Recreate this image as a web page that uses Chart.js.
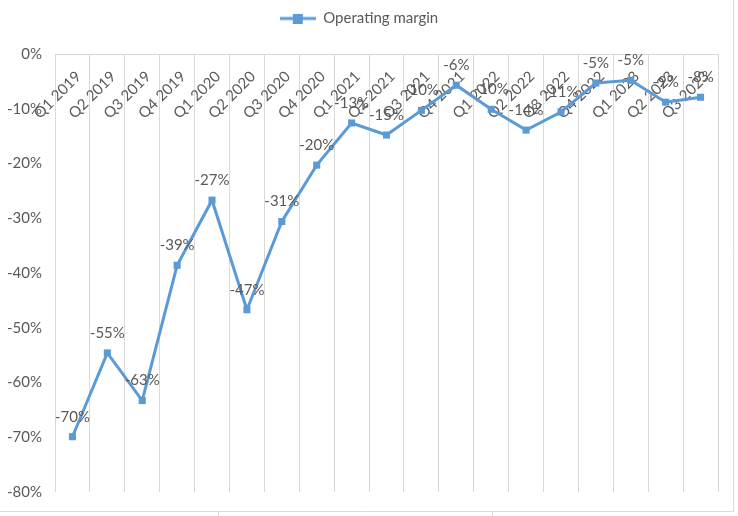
<!DOCTYPE html>
<html>
<head>
<meta charset="utf-8">
<script src="https://cdn.jsdelivr.net/npm/chart.js@4.4.1/dist/chart.umd.min.js"></script>
<style>
  html, body { margin: 0; padding: 0; background: #fff; }
  #wrap { width: 738px; height: 516px; }
</style>
</head>
<body>
<div id="wrap"><canvas id="chart" width="738" height="516"></canvas></div>
<script>
const quarters = ["Q1 2019", "Q2 2019", "Q3 2019", "Q4 2019", "Q1 2020", "Q2 2020", "Q3 2020", "Q4 2020",
  "Q1 2021", "Q2 2021", "Q3 2021", "Q4 2021", "Q1 2022", "Q2 2022", "Q3 2022", "Q4 2022",
  "Q1 2023", "Q2 2023", "Q3 2023"];
const operatingMargin = [-69.9, -54.6, -63.3, -38.6, -26.7, -46.7, -30.6, -20.3, -12.6, -14.8,
  -10.3, -5.7, -10.1, -13.9, -10.6, -5.3, -4.8, -8.8, -7.9];
const yTicks = [0, -10, -20, -30, -40, -50, -60, -70, -80];

const BLUE = "#5B9BD5";
const TEXT = "#595959";
const GRID = "#d9d9d9";
const FONT = "Lato, 'Open Sans', sans-serif";

// legend marker: line with a square on it
const marker = document.createElement("canvas");
marker.width = 36; marker.height = 10;
{
  const c = marker.getContext("2d");
  c.strokeStyle = BLUE; c.lineWidth = 3;
  c.beginPath(); c.moveTo(0, 5); c.lineTo(36, 5); c.stroke();
  c.fillStyle = BLUE; c.fillRect(13, 0, 10, 10);
}

const extras = {
  id: "extras",
  beforeDraw(chart) {
    const ctx = chart.ctx;
    ctx.save();
    ctx.strokeStyle = GRID; ctx.lineWidth = 1;
    ctx.beginPath();
    ctx.moveTo(733.5, 0); ctx.lineTo(733.5, 511.5); ctx.lineTo(0, 511.5);
    ctx.moveTo(218.5, 511.5); ctx.lineTo(218.5, 516);
    ctx.moveTo(492.5, 511.5); ctx.lineTo(492.5, 516);
    ctx.stroke();
    ctx.restore();
  },
  beforeDatasetsDraw(chart) {
    const ctx = chart.ctx, x = chart.scales.x, top = chart.chartArea.top;
    ctx.save();
    ctx.fillStyle = TEXT;
    ctx.font = "15px " + FONT;
    ctx.textAlign = "right";
    ctx.textBaseline = "middle";
    quarters.forEach((q, i) => {
      ctx.save();
      ctx.translate(x.getPixelForValue(i) + 6, top + 20);
      ctx.rotate(-Math.PI / 4);
      ctx.fillText(q, 0, 0);
      ctx.restore();
    });
    ctx.restore();
  },
  afterDatasetsDraw(chart) {
    const ctx = chart.ctx;
    const pts = chart.getDatasetMeta(0).data;
    ctx.save();
    ctx.fillStyle = TEXT;
    ctx.font = "15px " + FONT;
    ctx.textAlign = "center";
    ctx.textBaseline = "middle";
    pts.forEach((p, i) => {
      ctx.fillText(Math.round(operatingMargin[i]) + "%", p.x, p.y - 20);
    });
    ctx.restore();
  }
};

new Chart(document.getElementById("chart"), {
  type: "line",
  data: {
    labels: quarters,
    datasets: [{
      label: "Operating margin",
      data: operatingMargin,
      borderColor: BLUE,
      backgroundColor: BLUE,
      borderWidth: 3,
      tension: 0,
      pointStyle: "rect",
      pointRadius: 5,
      pointHoverRadius: 5,
      pointBorderWidth: 0
    }]
  },
  options: {
    responsive: false,
    animation: false,
    layout: { padding: { top: 1, left: 0, right: 20, bottom: 24 } },
    plugins: {
      tooltip: { enabled: false },
      legend: {
        position: "top",
        labels: {
          usePointStyle: true,
          pointStyle: marker,
          pointStyleWidth: 36,
          color: TEXT,
          font: { family: FONT, size: 15 },
          padding: 10
        }
      }
    },
    scales: {
      x: {
        position: "top",
        offset: true,
        ticks: { display: false },
        grid: { color: GRID, offset: true, drawTicks: false },
        border: { color: GRID },
        afterFit: s => { s.height = 18; }
      },
      y: {
        min: -80,
        max: 0,
        afterBuildTicks: s => { s.ticks = yTicks.map(v => ({ value: v })); },
        ticks: {
          color: TEXT,
          font: { family: FONT, size: 15 },
          padding: 13,
          callback: v => v + "%"
        },
        grid: { display: false, drawTicks: false },
        border: { display: false },
        afterFit: s => { s.width = 55; }
      }
    }
  },
  plugins: [extras]
});
</script>
</body>
</html>
